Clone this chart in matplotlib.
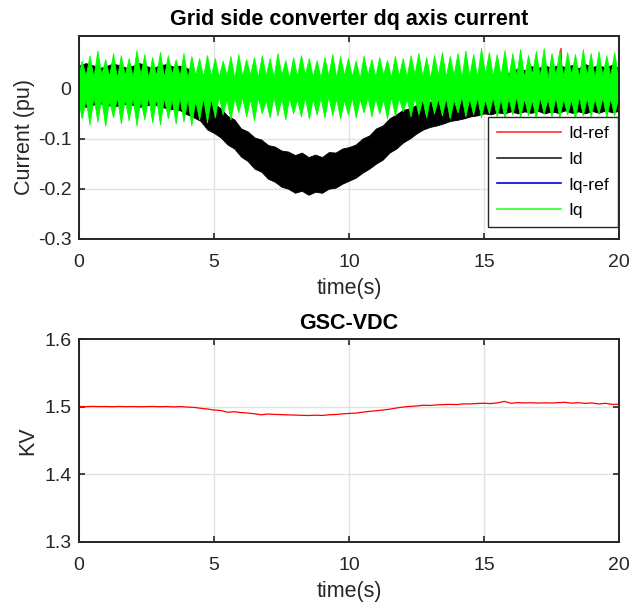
import matplotlib
matplotlib.use('Agg')
import matplotlib.pyplot as plt
from matplotlib.lines import Line2D
import numpy as np

plt.rcParams['font.family'] = ['Liberation Sans', 'DejaVu Sans']
plt.rcParams['axes.unicode_minus'] = False

# ---- top plot: dq currents (pu) ----
# Id band (upper / lower edge), read every 0.25 s
t_id = np.arange(81) * 0.25
id_hi = [0.045, 0.050, 0.046, 0.040, 0.044, 0.049, 0.046, 0.041,
         0.045, 0.050, 0.044, 0.040, 0.046, 0.048, 0.043, 0.045,
         0.040, 0.032, 0.015, -0.015, -0.030, -0.040, -0.055, -0.062,
         -0.080, -0.086, -0.098, -0.102, -0.113, -0.116, -0.124, -0.126,
         -0.133, -0.128, -0.137, -0.132, -0.137, -0.127, -0.128, -0.120,
         -0.117, -0.112, -0.100, -0.094, -0.080, -0.074, -0.060, -0.052,
         -0.043, -0.040, -0.033, -0.025, -0.027, -0.018, -0.020, -0.010,
         -0.012, 0.002, 0.000, 0.010, 0.012, 0.024, 0.022, 0.032,
         0.030, 0.040, 0.036, 0.044, 0.040, 0.046, 0.040, 0.047,
         0.042, 0.046, 0.040, 0.048, 0.042, 0.046, 0.041, 0.047,
         0.040]
id_lo = [-0.032, -0.037, -0.033, -0.030, -0.032, -0.036, -0.034, -0.031,
         -0.033, -0.037, -0.034, -0.032, -0.036, -0.040, -0.042, -0.044,
         -0.052, -0.058, -0.065, -0.082, -0.089, -0.098, -0.112, -0.120,
         -0.136, -0.145, -0.160, -0.166, -0.180, -0.186, -0.196, -0.200,
         -0.208, -0.204, -0.212, -0.206, -0.208, -0.200, -0.198, -0.190,
         -0.184, -0.178, -0.168, -0.160, -0.150, -0.142, -0.128, -0.120,
         -0.108, -0.100, -0.090, -0.082, -0.077, -0.074, -0.070, -0.065,
         -0.063, -0.060, -0.056, -0.054, -0.050, -0.052, -0.048, -0.050,
         -0.046, -0.050, -0.046, -0.049, -0.045, -0.050, -0.046, -0.049,
         -0.044, -0.049, -0.046, -0.050, -0.045, -0.049, -0.044, -0.048,
         -0.045]

# Id-ref (mostly hidden under Id, one spike near 17.85 s)
t_idref = [0, 2, 4, 4.5, 5, 6, 7, 8, 8.5, 9, 10, 11, 12, 13, 14, 15, 16, 17,
           17.8, 17.85, 17.9, 18, 19, 20]
idref = [0.0, 0.0, -0.005, -0.02, -0.06, -0.11, -0.148, -0.17, -0.175, -0.172,
         -0.15, -0.113, -0.076, -0.053, -0.038, -0.02, -0.008, 0.0,
         0.0, 0.079, 0.0, 0.0, 0.0, 0.0]

# Iq-ref (hidden under Iq)
t_iqref = [0, 20]
iqref = [0.0, 0.0]

# Iq band: spike tips and the valleys between them
t_iq_peak = 0.1 + np.arange(69) * 0.29
t_iq_valley = -0.045 + np.arange(70) * 0.29
iq_top_peak = [0.055, 0.065, 0.075, 0.058, 0.070, 0.066, 0.060, 0.076, 0.068, 0.062,
               0.072, 0.066, 0.058, 0.070, 0.064, 0.060, 0.066,
               0.060, 0.055, 0.064, 0.068, 0.058, 0.062, 0.066, 0.060, 0.070, 0.056,
               0.062, 0.066, 0.060, 0.056, 0.062, 0.068, 0.064,
               0.060, 0.055, 0.065, 0.058, 0.062, 0.056, 0.064, 0.060, 0.066, 0.070,
               0.062, 0.066, 0.072, 0.064, 0.070, 0.075, 0.068,
               0.080, 0.072, 0.068, 0.076, 0.070, 0.078, 0.066, 0.074, 0.080, 0.070,
               0.076, 0.072, 0.068, 0.078, 0.070, 0.074, 0.066, 0.072]
iq_top_valley = [0.020, 0.025, 0.022, 0.028, 0.024, 0.020, 0.026, 0.023, 0.027, 0.021,
                 0.025, 0.022, 0.028, 0.024, 0.020, 0.026, 0.023, 0.025, 0.022, 0.026,
                 0.020, 0.024, 0.027, 0.021, 0.025, 0.022, 0.026, 0.020, 0.024, 0.027,
                 0.023, 0.021, 0.025, 0.022, 0.026, 0.024, 0.020, 0.026, 0.023, 0.027,
                 0.021, 0.025, 0.022, 0.028, 0.024, 0.020, 0.026, 0.023, 0.027, 0.021,
                 0.025, 0.022, 0.028, 0.024, 0.026, 0.021, 0.025, 0.022, 0.028, 0.024,
                 0.020, 0.026, 0.023, 0.027, 0.021, 0.025, 0.022, 0.026, 0.024, 0.022]
iq_bot_peak = [-0.060, -0.072, -0.066, -0.075, -0.058, -0.070, -0.064, -0.074, -0.062, -0.068,
               -0.072, -0.060, -0.070, -0.066, -0.074, -0.062, -0.068,
               -0.058, -0.052, -0.062, -0.048, -0.056, -0.064, -0.050, -0.058, -0.054,
               -0.062, -0.050, -0.056, -0.060, -0.052, -0.058, -0.054, -0.060,
               -0.052, -0.058, -0.048, -0.056, -0.050, -0.060, -0.054, -0.046, -0.056,
               -0.052, -0.058, -0.050, -0.054, -0.060, -0.048, -0.056, -0.052,
               -0.058, -0.050, -0.056, -0.060, -0.052, -0.058, -0.054, -0.060, -0.050,
               -0.056, -0.058, -0.052, -0.060, -0.054, -0.056, -0.050, -0.058, -0.054]
iq_bot_valley = [-0.018, -0.022, -0.016, -0.020, -0.024, -0.017, -0.021, -0.019, -0.023, -0.016,
                 -0.020, -0.018, -0.022, -0.017, -0.021, -0.024, -0.018, -0.020, -0.016, -0.022,
                 -0.019, -0.017, -0.021, -0.018, -0.023, -0.016, -0.020, -0.018, -0.022, -0.017,
                 -0.021, -0.019, -0.016, -0.020, -0.023, -0.018, -0.021, -0.017, -0.020, -0.022,
                 -0.016, -0.019, -0.021, -0.018, -0.022, -0.017, -0.020, -0.019, -0.023, -0.016,
                 -0.020, -0.018, -0.022, -0.017, -0.021, -0.019, -0.016, -0.020, -0.023, -0.018,
                 -0.021, -0.017, -0.020, -0.022, -0.016, -0.019, -0.021, -0.018, -0.020, -0.019]

# ---- bottom plot: DC link voltage (kV), every 0.25 s ----
t_vdc = np.arange(81) * 0.25
vdc = [1.5003, 1.5000, 1.5004, 1.5001, 1.5002, 1.4999, 1.5003, 1.5000, 1.5002, 1.4999,
       1.5001, 1.5003, 1.4999, 1.5002, 1.4997, 1.5001, 1.4994, 1.4990, 1.4976, 1.4966,
       1.4950, 1.4944, 1.4918, 1.4925, 1.4912, 1.4906, 1.4895, 1.4880, 1.4891, 1.4886,
       1.4882, 1.4878, 1.4876, 1.4872, 1.4869, 1.4874, 1.4870, 1.4880, 1.4884, 1.4893,
       1.4900, 1.4904, 1.4918, 1.4930, 1.4940, 1.4950, 1.4962, 1.4980, 1.4994, 1.5004,
       1.5010, 1.5021, 1.5018, 1.5026, 1.5030, 1.5034, 1.5031, 1.5042, 1.5040, 1.5048,
       1.5050, 1.5046, 1.5056, 1.5078, 1.5050, 1.5060, 1.5055, 1.5058, 1.5053, 1.5057,
       1.5054, 1.5060, 1.5064, 1.5052, 1.5058, 1.5049, 1.5055, 1.5040, 1.5050, 1.5033,
       1.5038]

xticks = [0, 5, 10, 15, 20]
ax_col = '#262626'
green = '#00ff00'


def style(ax):
    ax.set_xlim(0, 20)
    ax.set_xticks(xticks)
    ax.grid(True, color='#e1e1e1', lw=1)
    ax.set_axisbelow(True)
    for s in ax.spines.values():
        s.set_color(ax_col)
        s.set_linewidth(1.4)
    ax.tick_params(direction='in', top=True, right=True, length=4, width=1.2,
                   color=ax_col, labelcolor=ax_col, labelsize=14)
    ax.tick_params(axis='x', pad=11)
    ax.tick_params(axis='y', pad=5.5)


fig = plt.figure(figsize=(6.29, 6.07), dpi=100)
ax1 = fig.add_axes([79 / 629, 1 - 239 / 607, 540 / 629, 203 / 607])
ax2 = fig.add_axes([79 / 629, 1 - 542 / 607, 540 / 629, 203 / 607])

# interleave valleys and spike tips for the Iq band
t_iq = np.empty(139)
t_iq[0::2] = t_iq_valley
t_iq[1::2] = t_iq_peak
iq_top = np.empty(139)
iq_top[0::2] = iq_top_valley
iq_top[1::2] = iq_top_peak
iq_bot = np.empty(139)
iq_bot[0::2] = iq_bot_valley
iq_bot[1::2] = iq_bot_peak

ax1.plot(t_idref, idref, color='red', lw=1, zorder=2)
ax1.fill_between(t_id, id_lo, id_hi, color='black', lw=0.6, zorder=2.1)
ax1.plot(t_iqref, iqref, color='blue', lw=1, zorder=2.2)
ax1.fill_between(t_iq, iq_bot, iq_top, color=green, lw=0.6, zorder=2.3)

style(ax1)
ax1.set_ylim(-0.3, 0.104)
ax1.set_yticks([-0.3, -0.2, -0.1, 0])
ax1.set_yticklabels(['-0.3', '-0.2', '-0.1', '0'])
ax1.set_title('Grid side converter dq axis current', fontsize=15.5,
              fontweight='bold', pad=8, color='black')
ax1.set_xlabel('time(s)', fontsize=15.5, color=ax_col, labelpad=5)
ax1.set_ylabel('Current (pu)', fontsize=15.5, color=ax_col)
ax1.yaxis.set_label_coords(-0.0814, 0.5)

handles = [Line2D([], [], color='#ff3030', lw=1.2),
           Line2D([], [], color='#202020', lw=1.2),
           Line2D([], [], color='#0000e0', lw=1.2),
           Line2D([], [], color='#30ff30', lw=1.2)]
leg = ax1.legend(handles, ['Id-ref', 'Id', 'Iq-ref', 'Iq'], loc='lower right',
                 bbox_to_anchor=(0.998, 0.059), borderaxespad=0, fontsize=12.6,
                 handlelength=3.7, handletextpad=0.4, labelspacing=0.6,
                 fancybox=False, framealpha=1, borderpad=0.5)
leg.get_frame().set_edgecolor(ax_col)
leg.get_frame().set_linewidth(1.0)
leg.set_zorder(5)

ax2.plot(t_vdc, vdc, color='red', lw=0.9)
style(ax2)
ax2.set_ylim(1.3, 1.6)
ax2.set_yticks([1.3, 1.4, 1.5, 1.6])
ax2.set_yticklabels(['1.3', '1.4', '1.5', '1.6'])
ax2.set_title('GSC-VDC', fontsize=15.5, fontweight='bold', pad=7, color='black')
ax2.set_xlabel('time(s)', fontsize=15.5, color=ax_col, labelpad=5)
ax2.set_ylabel('KV', fontsize=15.5, color=ax_col)
ax2.yaxis.set_label_coords(-0.0759, 0.5)

fig.savefig('out.png', dpi=100)
